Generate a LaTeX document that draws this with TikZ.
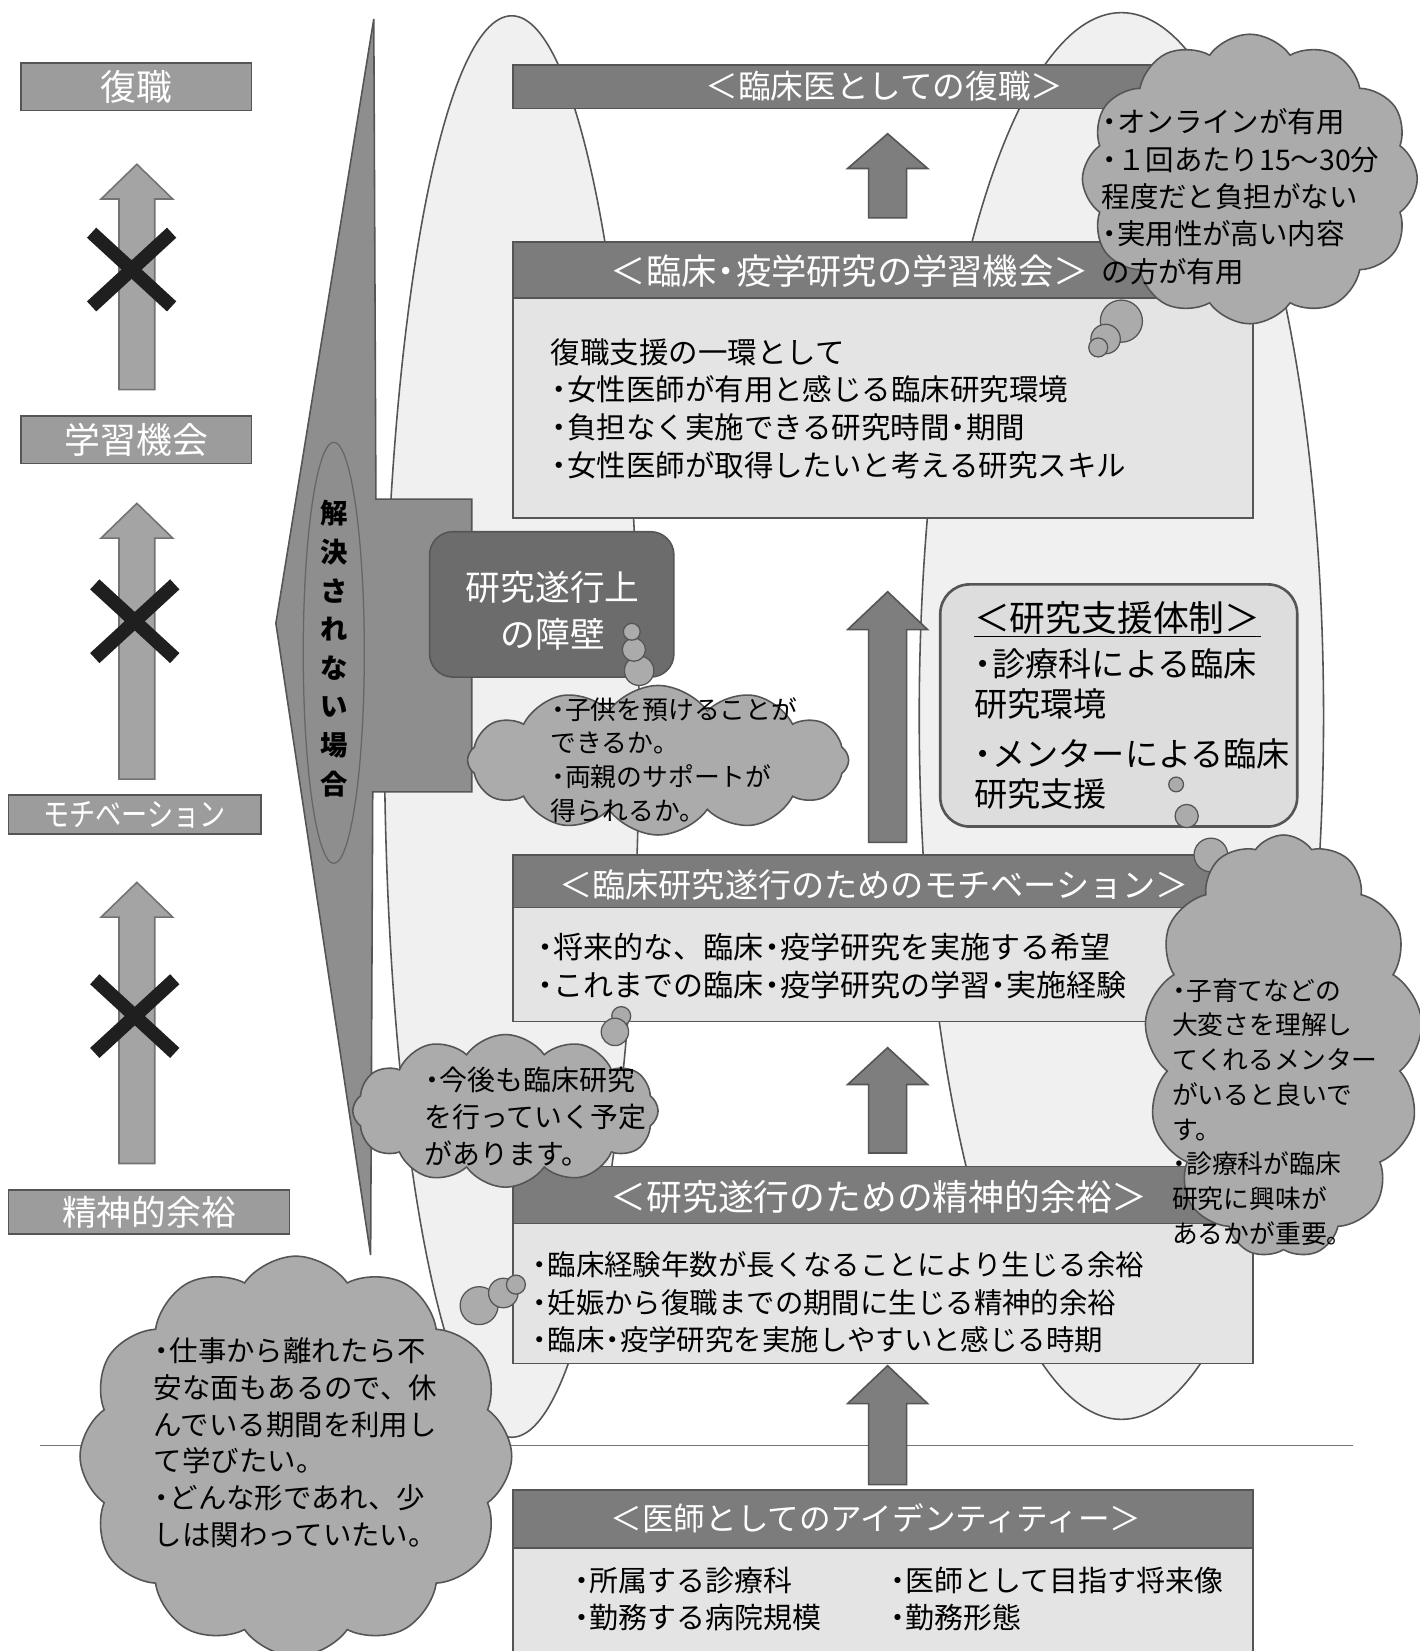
\documentclass[tikz,border=0pt]{standalone}
\usepackage{fontspec}
\usepackage{graphicx}
\setmainfont{Noto Sans CJK JP}
\usetikzlibrary{shapes.symbols,shapes.geometric}
\definecolor{ellfill}{HTML}{F0F0F0}
\definecolor{ptgray}{HTML}{8E8E8E}
\definecolor{lgray}{HTML}{9C9C9C}
\definecolor{hdrgray}{HTML}{7C7C7C}
\definecolor{bodygray}{HTML}{E4E4E4}
\definecolor{arrgray}{HTML}{7E7E7E}
\definecolor{larrgray}{HTML}{A4A4A4}
\definecolor{barrgray}{HTML}{6C6C6C}
\definecolor{supgray}{HTML}{DDDDDD}
\definecolor{cloudgray}{HTML}{ABABAB}
\definecolor{edgegray}{HTML}{555555}
\newcommand{\nd}{\makebox[0.55em][c]{・}}
\newcommand{\blkarrow}[7]{\path[#1] (#2,#3) -- ({#2+#7},#4) -- ({#2+#6},#4) -- ({#2+#6},#5) -- ({#2-#6},#5) -- ({#2-#6},#4) -- ({#2-#7},#4) -- cycle;}
\newcommand{\crossmark}[2]{\draw[xcross] ({#1-38},{#2-35}) -- ({#1+38},{#2+35}) ({#1+38},{#2-35}) -- ({#1-38},{#2+35});}
\tikzset{
  hdr/.style={draw=edgegray, line width=1.5pt, fill=hdrgray, inner sep=0, minimum width=703pt},
  bodybox/.style={draw=edgegray, line width=1.5pt, fill=bodygray, inner sep=0, minimum width=703pt},
  hdrtext/.style={text=white, font=\fontsize{31pt}{36pt}\selectfont, inner sep=0},
  bodytext/.style={align=left, anchor=north west, inner sep=0, font=\fontsize{28pt}{36pt}\selectfont},
  lbox/.style={draw=edgegray, line width=1.5pt, fill=lgray, text=white, font=\fontsize{34pt}{36pt}\selectfont, inner sep=0},
  cloudnode/.style={cloud, cloud puffs=12, cloud puff arc=110, cloud ignores aspect, draw=edgegray, line width=1.5pt, fill=cloudgray, inner sep=0},
  puff/.style={circle, draw=edgegray, line width=1.2pt, fill=cloudgray, inner sep=0},
  cloudtext/.style={align=left, anchor=north west, inner sep=0},
  marrow/.style={draw=edgegray, line width=1.5pt, fill=arrgray},
  larrow/.style={draw=black!55, line width=1.5pt, fill=larrgray},
  xcross/.style={line width=13pt, black!88},
}
\begin{document}
\begin{tikzpicture}[x=1pt,y=-1pt]
\useasboundingbox (0,0) rectangle (1348,1568);
\fill[white] (0,0) rectangle (1348,1568);

% background ellipses
\node[ellipse, draw=edgegray, line width=1.5pt, fill=ellfill, minimum width=242pt, minimum height=1350pt, inner sep=0] (lell) at (486,690) {};
\node[ellipse, draw=edgegray, line width=1.5pt, fill=ellfill, minimum width=384pt, minimum height=1336pt, inner sep=0] (rell) at (1065,680) {};

% horizontal rule
\coordinate (hl1) at (38,1373);
\coordinate (hl2) at (1285,1373);
\draw[black!55, line width=1pt] (hl1) -- (hl2);

% pointer shape
\path[draw=edgegray, fill=ptgray, line width=1.5pt] (355,18) -- (357,474) -- (448,474) -- (448,752) -- (354,752) -- (352,1192) -- (262,592) -- cycle;
\node[ellipse, draw=black!60, line width=1.2pt, minimum width=58pt, minimum height=400pt, inner sep=0] (iell) at (317,620) {};
\node[font=\fontsize{26pt}{36.7pt}\selectfont\bfseries, align=center, inner sep=0] (vtext) at (317,616) {解\\決\\さ\\れ\\な\\い\\場\\合};

% left column
\node[lbox, minimum width=219pt, minimum height=45pt] (l1) at (129.5,82.5) {復職};
\node[lbox, minimum width=219pt, minimum height=45pt] (l2) at (129.5,417.5) {学習機会};
\node[lbox, minimum width=240pt, minimum height=37pt, font=\fontsize{31pt}{36pt}\selectfont] (l3) at (128,773.5) {\scalebox{0.8}[1]{モチベーション}};
\node[lbox, minimum width=267pt, minimum height=42pt, font=\fontsize{33pt}{36pt}\selectfont] (l4) at (141.5,1151) {精神的余裕};
\blkarrow{larrow}{130}{156}{189}{370}{17}{34}
\blkarrow{larrow}{130}{478}{511}{740}{17}{34}
\blkarrow{larrow}{130}{838}{871}{1105}{17}{34}
\crossmark{125}{256}
\crossmark{128}{590}
\crossmark{128}{965}

% main column
\node[hdr, minimum height=41pt] (h1) at (838.5,82.5) {};
\node[hdrtext] (h1t) at (840,82) {＜臨床医としての復職＞};
\blkarrow{marrow}{843}{127}{160}{207}{18}{38}

\node[hdr, minimum height=53pt] (h2) at (838.5,256.5) {};
\node[hdrtext, font=\fontsize{33.5pt}{36pt}\selectfont] (h2t) at (807,257) {＜臨床\nd 疫学研究の学習機会＞};
\node[bodybox, minimum height=209pt] (b2) at (838.5,387.5) {};
\node[bodytext] (b2t) at (523,321) {復職支援の一環として\\\nd 女性医師が有用と感じる臨床研究環境\\\nd 負担なく実施できる研究時間\nd 期間\\\nd 女性医師が取得したいと考える研究スキル};

\blkarrow{marrow}{843}{562}{598}{800}{18}{38}

\node[hdr, minimum height=50pt] (h3) at (838.5,837) {};
\node[hdrtext, font=\fontsize{31.5pt}{36pt}\selectfont] (h3t) at (830,840) {＜臨床研究遂行のためのモチベーション＞};
\node[bodybox, minimum height=108pt] (b3) at (838.5,916) {};
\node[bodytext, font=\fontsize{28.5pt}{36pt}\selectfont] (b3t) at (510,886) {\nd 将来的な、臨床\nd 疫学研究を実施する希望\\\nd これまでの臨床\nd 疫学研究の学習\nd 実施経験};

\blkarrow{marrow}{843}{995}{1030}{1095}{18}{38}

\node[hdr, minimum height=54pt] (h4) at (838.5,1135) {};
\node[hdrtext, font=\fontsize{34pt}{36pt}\selectfont] (h4t) at (835,1137) {＜研究遂行のための精神的余裕＞};
\node[bodybox, minimum height=133pt] (b4) at (838.5,1228.5) {};
\node[bodytext, font=\fontsize{27pt}{36pt}\selectfont] (b4t) at (505,1188) {\nd 臨床経験年数が長くなることにより生じる余裕\\\nd 妊娠から復職までの期間に生じる精神的余裕\\\nd 臨床\nd 疫学研究を実施しやすいと感じる時期};

\blkarrow{marrow}{843}{1297}{1333}{1410}{18}{38}

\node[hdr, minimum height=55pt] (h5) at (838.5,1442.5) {};
\node[hdrtext, font=\fontsize{30pt}{36pt}\selectfont] (h5t) at (832,1442) {＜医師としてのアイデンティティー＞};
\node[bodybox, minimum height=110pt] (b5) at (838.5,1525) {};
\node[bodytext, font=\fontsize{27.5pt}{35pt}\selectfont] (b5a) at (545,1488) {\nd 所属する診療科\\\nd 勤務する病院規模};
\node[bodytext, font=\fontsize{27.5pt}{35pt}\selectfont] (b5b) at (845,1488) {\nd 医師として目指す将来像\\\nd 勤務形態};

% barrier box
\node[draw=edgegray, fill=barrgray, rounded corners=22pt, minimum width=232pt, minimum height=138pt, line width=1.5pt, inner sep=0] (barr) at (524,574) {};
\node[text=white, align=center, inner sep=0, font=\fontsize{33pt}{45pt}\selectfont] (barrt) at (525,580) {研究遂行上\\の障壁};

% support box
\node[draw=edgegray, fill=supgray, rounded corners=28pt, minimum width=339pt, minimum height=230pt, line width=2.5pt, inner sep=0] (sup) at (1062.5,670) {};
\node[cloudtext, font=\fontsize{31.5pt}{38pt}\selectfont] (supt) at (925,571) {{\fontsize{34pt}{38pt}\selectfont\underline{＜研究支援体制＞}}\\[5pt]\nd 診療科による臨床\\研究環境\\[9pt]\nd メンターによる臨床\\研究支援};

% cloud A
\node[cloudnode, minimum width=318pt, minimum height=275pt] (cA) at (1187,170) {};
\node[puff, minimum size=40pt] (tA1) at (1065,305) {};
\node[puff, minimum size=28pt] (tA2) at (1050,322) {};
\node[puff, minimum size=18pt] (tA3) at (1043,330) {};
\node[cloudtext, font=\fontsize{27pt}{35.5pt}\selectfont] (cAt) at (1046,103) {\nd オンラインが有用\\\nd １回あたり15～30分\\程度だと負担がない\\\nd 実用性が高い内容\\の方が有用};

% cloud B
\node[puff, minimum size=28pt] (tB1) at (607,637) {};
\node[puff, minimum size=22pt] (tB2) at (602,617) {};
\node[puff, minimum size=16pt] (tB3) at (600,600) {};
\node[cloudnode, minimum width=362pt, minimum height=142pt] (cB) at (625,722) {};
\node[cloudtext, font=\fontsize{24.5pt}{32pt}\selectfont] (cBt) at (523,662) {\nd 子供を預けることが\\できるか。\\\nd 両親のサポートが\\得られるか。};

% cloud C
\node[puff, minimum size=14pt] (tC1) at (1117,745) {};
\node[puff, minimum size=22pt] (tC2) at (1127,775) {};
\node[puff, minimum size=32pt] (tC3) at (1150,812) {};
\node[cloudnode, cloud puffs=13, minimum width=264pt, minimum height=402pt] (cC) at (1219,994) {};
\node[cloudtext, font=\fontsize{24.5pt}{33pt}\selectfont] (cCt) at (1113,929) {\nd 子育てなどの\\大変さを理解し\\てくれるメンター\\がいると良いで\\す。\\\nd 診療科が臨床\\研究に興味が\\あるかが重要。};

% cloud D
\node[puff, minimum size=18pt] (tD1) at (590,965) {};
\node[puff, minimum size=26pt] (tD2) at (584,980) {};
\node[cloudnode, minimum width=290pt, minimum height=145pt] (cD) at (480,1055) {};
\node[cloudtext, font=\fontsize{26.5pt}{35pt}\selectfont] (cDt) at (403,1013) {\nd 今後も臨床研究\\を行っていく予定\\があります。};

% cloud E
\node[puff, minimum size=36pt] (tE1) at (455,1240) {};
\node[puff, minimum size=28pt] (tE2) at (478,1228) {};
\node[puff, minimum size=18pt] (tE3) at (490,1220) {};
\node[cloudnode, minimum width=410pt, minimum height=380pt] (cE) at (281,1383) {};
\node[cloudtext, font=\fontsize{27pt}{35pt}\selectfont] (cEt) at (146,1270) {\nd 仕事から離れたら不\\安な面もあるので、休\\んでいる期間を利用し\\て学びたい。\\\nd どんな形であれ、少\\しは関わっていたい。};
\end{tikzpicture}
\end{document}
